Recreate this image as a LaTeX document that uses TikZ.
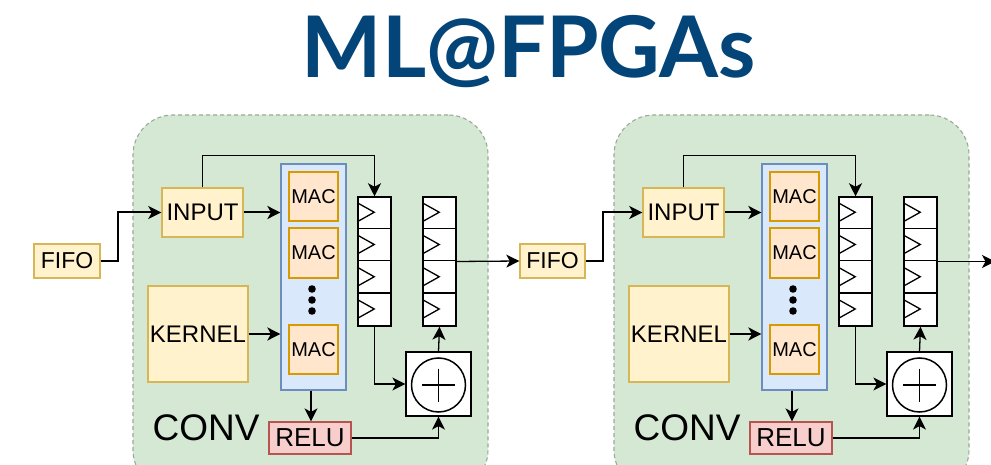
\documentclass[tikz,border=0pt]{standalone}
\usepackage{fontspec}
\setmainfont{Liberation Sans}
\newfontfamily\titlefont{Lato}[UprightFont=* Bold]
\usetikzlibrary{arrows.meta,calc}
\definecolor{titleblue}{RGB}{3,69,121}
\definecolor{convfill}{HTML}{D5E8D4}
\definecolor{convdraw}{HTML}{9AAA98}
\definecolor{yfill}{HTML}{FFF2CC}
\definecolor{ydraw}{HTML}{D6B656}
\definecolor{ofill}{HTML}{FFE6CC}
\definecolor{odraw}{HTML}{D79B00}
\definecolor{bfill}{HTML}{DAE8FC}
\definecolor{bdraw}{HTML}{6C8EBF}
\definecolor{rfill}{HTML}{F8CECC}
\definecolor{rdraw}{HTML}{B85450}
\tikzset{
  fs/.code={\fontsize{#1}{#1}\selectfont},
  convbox/.style={draw=convdraw,fill=convfill,dash pattern=on 4pt off 3pt,line width=1.1pt,rounded corners=40pt,inner sep=0pt},
  ybox/.style={draw=ydraw,fill=yfill,line width=1.4pt,inner sep=0pt},
  macbox/.style={draw=odraw,fill=ofill,line width=1.2pt,inner sep=0pt,minimum width=49pt,fs=20},
  colbox/.style={draw=bdraw,fill=bfill,line width=1.2pt,inner sep=0pt},
  relubox/.style={draw=rdraw,fill=rfill,line width=1.2pt,inner sep=0pt,fs=26},
  regbox/.style={draw=black,fill=white,line width=1.5pt,inner sep=0pt,minimum width=33pt,minimum height=129pt},
  addbox/.style={draw=black,fill=white,line width=1.2pt,inner sep=0pt,minimum width=65pt,minimum height=64pt},
  tipshape/.style={-{Stealth[length=13pt,width=13pt,inset=3.5pt]}},
  arr/.style={draw=black,line width=1.3pt,tipshape},
  thickarr/.style={draw=black,line width=2pt,tipshape},
}
\newcommand{\regcells}[1]{%
  \foreach \k in {1,2,3} {\draw[line width=1.5pt] ($(#1.north west)+(0,\k*32.25)$) -- ($(#1.north east)+(0,\k*32.25)$);}
  \foreach \k in {0,1,2,3} {\draw[line width=1.3pt] ($(#1.north west)+(0,\k*32.25+6.5)$) -- ($(#1.north west)+(17,\k*32.25+16)$) -- ($(#1.north west)+(0,\k*32.25+25.5)$);}
}
\newcommand{\convblock}{%
  \node[convbox,minimum width=355pt,minimum height=375pt] (conv) at (310.5,302.5) {};
  \node[ybox,minimum width=81pt,minimum height=49pt,fs=24] (input) at (202.5,212.5) {INPUT};
  \node[ybox,minimum width=100pt,minimum height=96pt,fs=24] (kernel) at (198,334) {KERNEL};
  \node[colbox,minimum width=65pt,minimum height=226pt] (maccol) at (313.5,277) {};
  \node[macbox,minimum height=49pt] (mac1) at (313.5,196.5) {MAC};
  \node[macbox,minimum height=50pt] (mac2) at (313.5,253) {MAC};
  \node[macbox,minimum height=49pt] (mac3) at (313.5,349.5) {MAC};
  \foreach \yy in {289,300,311} {\fill (312,\yy) circle (3.8pt);}
  \node[regbox] (reg1) at (374.5,261.5) {};
  \regcells{reg1}
  \node[regbox] (reg2) at (439.5,261.5) {};
  \regcells{reg2}
  \node[addbox] (adder) at (438.5,384) {};
  \node[draw,circle,line width=1.5pt,minimum size=54pt,inner sep=0pt] (addc) at (438.5,385) {};
  \draw[line width=1.3pt] ($(addc.center)+(0,-16.5)$) -- ($(addc.center)+(0,16.5)$) ($(addc.center)+(-16.5,0)$) -- ($(addc.center)+(16.5,0)$);
  \node[relubox,minimum width=82pt,minimum height=32pt] (relu) at (310,438) {RELU};
  \node[fs=37] (convlbl) at (206,428) {CONV};
  \draw[thickarr] (input.east) -- (input.east -| maccol.west);
  \draw[thickarr] (kernel.east) -- (kernel.east -| maccol.west);
  \draw[arr,line width=1.1pt] (input.north) -- ++(0,-32) -| (reg1.north);
  \draw[arr] (maccol.south -| 311,0) -- (relu.north -| 311,0);
  \draw[arr] (relu.east) -| (adder.south);
  \draw[arr] (reg1.south) |- (adder.west);
  \draw[arr] (adder.north) -- (reg2.south);
}
\begin{document}
\begin{tikzpicture}[x=1pt,y=-1pt]
\useasboundingbox (0,0) rectangle (991,465);
\fill[white] (0,0) rectangle (991,465);
\clip (0,0) rectangle (991,465);
\node[anchor=base,text=titleblue,inner sep=0pt] (title) at (529,78) {\titlefont\fontsize{85}{85}\selectfont ML@FPGAs};
\node[ybox,minimum width=66pt,minimum height=34pt,fs=23] (fifoA) at (67,261) {FIFO};
\node[ybox,minimum width=65pt,minimum height=34pt,fs=23] (fifoB) at (552.5,261) {FIFO};
\begin{scope}[name prefix=A-]
\convblock
\end{scope}
\begin{scope}[xshift=481pt,name prefix=B-]
\convblock
\end{scope}
\draw[thickarr] (fifoA.east) -- ++(17,0) |- (A-input.west);
\draw[thickarr] (fifoB.east) -- ++(17,0) |- (B-input.west);
\draw[arr] (A-reg2.east) -- (fifoB.west);
\coordinate (outend) at (995,261.5);
\draw[arr] (B-reg2.east) -- (outend);
\end{tikzpicture}
\end{document}
